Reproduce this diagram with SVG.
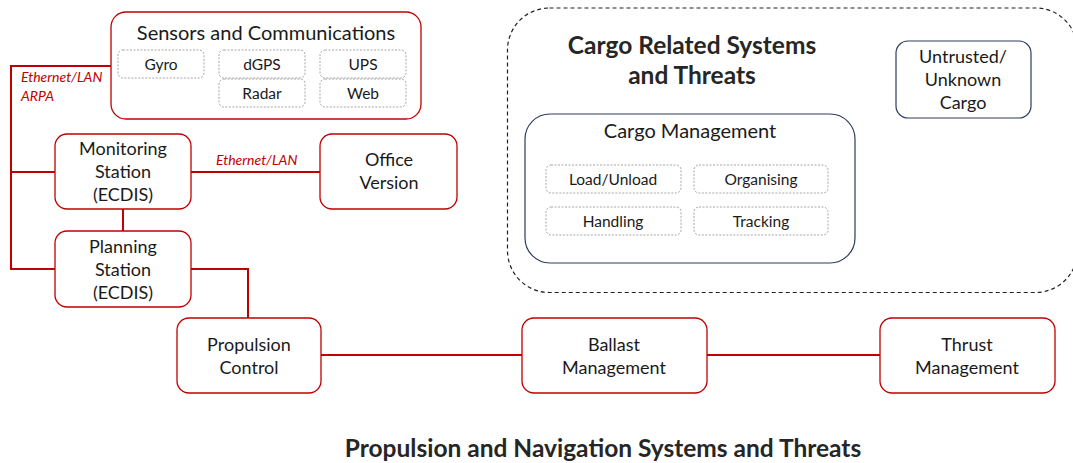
<svg xmlns="http://www.w3.org/2000/svg" width="1073" height="463" viewBox="0 0 1073 463">
<style>
text{font-family:Lato,"Open Sans","Liberation Sans",sans-serif;fill:#1a1a1a;text-anchor:middle}
.rn{fill:#fff;stroke:#c00000;stroke-width:1.3}
.bn{fill:#fff;stroke:#2e3d5c;stroke-width:1.2}
.sub{fill:#fff;stroke:#a6a6a6;stroke-width:1;stroke-dasharray:2 1.5}
.cn{fill:none;stroke:#c00000;stroke-width:2}
.t17{font-size:18px}
.t19{font-size:20px}
.t15{font-size:15.5px}
.lbl{font-size:14px;font-style:italic;fill:#c00000;text-anchor:start}
.hd{font-size:24.5px;font-weight:bold;fill:#262626}
</style>
<g id="connectors">
<polyline class="cn" points="111,66 11,66 11,269 55,269"/>
<line class="cn" x1="11" y1="172" x2="55" y2="172"/>
<line class="cn" x1="191" y1="172" x2="320" y2="172"/>
<line class="cn" x1="123" y1="209" x2="123" y2="231"/>
<polyline class="cn" points="191,269 248,269 248,318"/>
<line class="cn" x1="321" y1="355" x2="522" y2="355"/>
<line class="cn" x1="707" y1="355" x2="880" y2="355"/>
<text class="lbl" x="21" y="82">Ethernet/LAN</text>
<text class="lbl" x="21" y="101">ARPA</text>
<text class="lbl" x="216" y="165">Ethernet/LAN</text>
</g>
<g id="cargo-area">
<rect x="507.5" y="8" width="570" height="284.5" rx="42" fill="none" stroke="#222" stroke-width="1.2" stroke-dasharray="4 3"/>
<text class="hd" x="692" y="54">Cargo Related Systems</text>
<text class="hd" x="692" y="84">and Threats</text>
</g>
<g id="sensors">
<rect class="rn" x="111" y="12" width="310" height="107" rx="15"/>
<text class="t19" x="266" y="40">Sensors and Communications</text>
<g id="gyro"><rect class="sub" x="118" y="50" width="86" height="28" rx="5"/><text class="t15" x="161" y="70">Gyro</text></g>
<g id="dgps"><rect class="sub" x="219" y="50" width="86" height="28" rx="5"/><text class="t15" x="262" y="70">dGPS</text></g>
<g id="radar"><rect class="sub" x="219" y="79" width="86" height="28" rx="5"/><text class="t15" x="262" y="99">Radar</text></g>
<g id="ups"><rect class="sub" x="320" y="50" width="86" height="28" rx="5"/><text class="t15" x="363" y="70">UPS</text></g>
<g id="web"><rect class="sub" x="320" y="79" width="86" height="28" rx="5"/><text class="t15" x="363" y="99">Web</text></g>
</g>
<g id="monitoring">
<rect class="rn" x="55" y="134" width="136" height="75" rx="12"/>
<text class="t17" x="123" y="155">Monitoring</text>
<text class="t17" x="123" y="178">Station</text>
<text class="t17" x="123" y="201">(ECDIS)</text>
</g>
<g id="office">
<rect class="rn" x="320" y="134" width="137" height="75" rx="12"/>
<text class="t17" x="389" y="166">Office</text>
<text class="t17" x="389" y="189">Version</text>
</g>
<g id="planning">
<rect class="rn" x="55" y="231" width="136" height="76" rx="12"/>
<text class="t17" x="123" y="253">Planning</text>
<text class="t17" x="123" y="276">Station</text>
<text class="t17" x="123" y="299">(ECDIS)</text>
</g>
<g id="propulsion">
<rect class="rn" x="177" y="318" width="144" height="75" rx="12"/>
<text class="t17" x="249" y="351">Propulsion</text>
<text class="t17" x="249" y="374">Control</text>
</g>
<g id="ballast">
<rect class="rn" x="522" y="318" width="185" height="75" rx="12"/>
<text class="t17" x="614" y="351">Ballast</text>
<text class="t17" x="614" y="374">Management</text>
</g>
<g id="thrust">
<rect class="rn" x="880" y="318" width="175" height="75" rx="12"/>
<text class="t17" x="967" y="351">Thrust</text>
<text class="t17" x="967" y="374">Management</text>
</g>
<g id="untrusted">
<rect class="bn" x="896" y="41" width="135" height="77" rx="12"/>
<text class="t17" x="963" y="63">Untrusted/</text>
<text class="t17" x="963" y="86">Unknown</text>
<text class="t17" x="963" y="109">Cargo</text>
</g>
<g id="cargo-management">
<rect class="bn" x="525" y="114" width="330" height="149" rx="25"/>
<text class="t19" x="690" y="138">Cargo Management</text>
<g id="load"><rect class="sub" x="546" y="165" width="135" height="28" rx="5"/><text class="t15" x="613" y="185">Load/Unload</text></g>
<g id="organising"><rect class="sub" x="694" y="165" width="134" height="28" rx="5"/><text class="t15" x="761" y="185">Organising</text></g>
<g id="handling"><rect class="sub" x="546" y="207" width="135" height="28" rx="5"/><text class="t15" x="613" y="227">Handling</text></g>
<g id="tracking"><rect class="sub" x="694" y="207" width="134" height="28" rx="5"/><text class="t15" x="761" y="227">Tracking</text></g>
</g>
<text class="hd" x="603" y="457">Propulsion and Navigation Systems and Threats</text>
</svg>
